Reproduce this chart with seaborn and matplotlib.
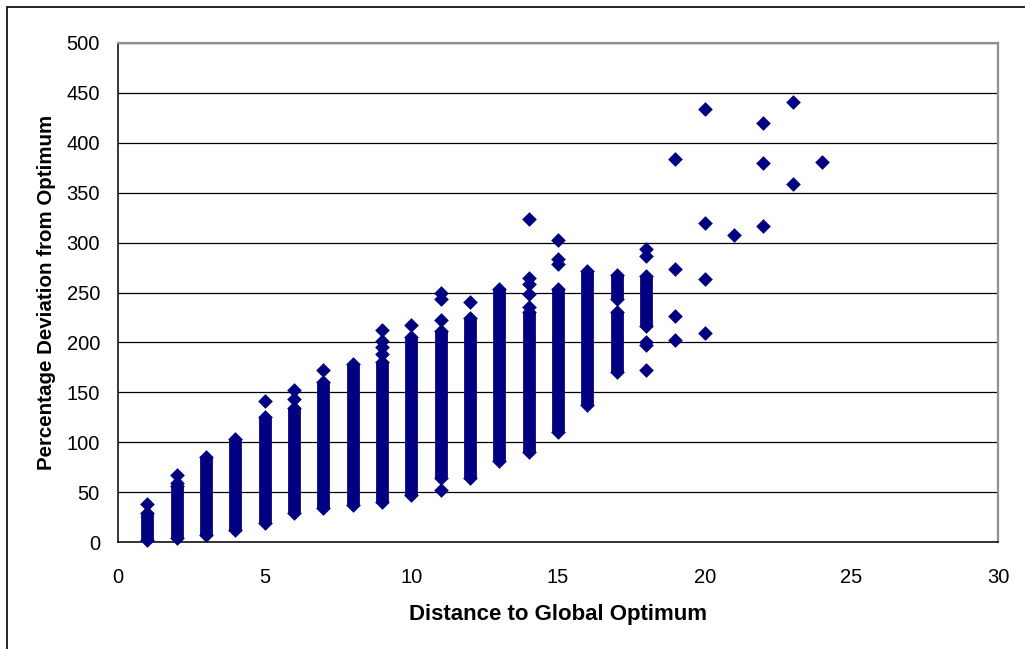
import pandas as pd
import matplotlib
matplotlib.use("Agg")
import matplotlib.pyplot as plt
from matplotlib.patches import Rectangle
import seaborn as sns

# --- dados ---
# colunas densas: cada distancia tem um bloco continuo de pontos (min .. max)
seg_x = [1, 2, 3, 4, 5, 6, 7, 8, 9, 10, 11, 12, 13, 14, 15, 16, 17, 17, 18]
seg_lo = [2, 4, 7, 12, 19, 29, 34, 37, 40, 47, 64, 64, 81, 90, 110, 137, 170, 243, 216]
seg_hi = [29, 56, 85, 103, 125, 134, 160, 178, 180, 205, 211, 224, 254, 230, 254, 272, 230, 268, 267]

# pontos isolados
pt_x = [1, 2, 2, 5, 6, 6, 7, 9, 9, 9, 9, 10, 11, 11, 11, 11, 12,
        14, 14, 14, 14, 14, 15, 15, 15, 18, 18, 18, 18, 18,
        19, 19, 19, 19, 20, 20, 20, 20, 21, 22, 22, 22, 23, 23, 24]
pt_y = [38, 59, 67, 141, 143, 152, 172, 188, 195, 201, 212, 217, 52, 222, 243, 250, 240,
        235, 248, 259, 265, 324, 279, 284, 303, 294, 287, 200, 197, 172,
        384, 274, 226, 202, 434, 320, 264, 209, 308, 420, 380, 317, 441, 359, 381]

x_ticks = [0, 5, 10, 15, 20, 25, 30]
y_ticks = [0, 50, 100, 150, 200, 250, 300, 350, 400, 450, 500]

X_LABEL = "Distance to Global Optimum"
Y_LABEL = "Percentage Deviation from Optimum"
NAVY = "#000080"
OUTPUT = "out.png"


def draw_chart():
    sns.set_style("white")
    plt.rcParams["font.family"] = ["Liberation Sans", "DejaVu Sans"]
    plt.rcParams["text.color"] = "black"
    plt.rcParams["axes.labelcolor"] = "black"

    fig = plt.figure(figsize=(10.25, 6.49), dpi=100)
    ax = fig.add_axes([118 / 1025, 1 - 542 / 649, 880 / 1025, 499 / 649])

    # blocos densos de pontos
    ax.vlines(seg_x, seg_lo, seg_hi, colors=NAVY, linewidth=9.2, zorder=3)

    pts = pd.DataFrame({
        "dist": seg_x + seg_x + pt_x,
        "dev": seg_lo + seg_hi + pt_y,
    })
    sns.scatterplot(data=pts, x="dist", y="dev", marker="D", s=56, color=NAVY,
                    linewidth=0, ax=ax, zorder=4, clip_on=False, legend=False)

    ax.set_xlim(0, 30)
    ax.set_ylim(0, 500)
    ax.set_xticks(x_ticks)
    ax.set_yticks(y_ticks)
    ax.tick_params(axis="both", direction="out", length=5, width=1,
                   color="black", labelsize=14.5, labelcolor="black")
    ax.tick_params(axis="y", pad=8)
    ax.tick_params(axis="x", pad=14)

    ax.yaxis.grid(True, color="black", linewidth=0.9)
    ax.xaxis.grid(False)
    ax.set_axisbelow(True)

    for side in ["left", "bottom"]:
        ax.spines[side].set_color("black")
        ax.spines[side].set_linewidth(1.1)
    for side in ["top", "right"]:
        ax.spines[side].set_color("#909090")
        ax.spines[side].set_linewidth(1.6)

    ax.set_xlabel(X_LABEL, fontsize=16, fontweight="bold")
    ax.set_ylabel(Y_LABEL, fontsize=14.8, fontweight="bold")
    ax.xaxis.set_label_coords(0.5, -0.125)
    ax.yaxis.set_label_coords(-0.071, 0.5)

    # moldura da figura (cortada a direita e em baixo)
    fig.patches.append(Rectangle((6.5 / 1025, -0.1), 1.2, 1.1 - 7 / 649,
                                 transform=fig.transFigure, fill=False,
                                 edgecolor="black", linewidth=1.2))

    fig.savefig(OUTPUT, dpi=100)
    plt.close(fig)


if __name__ == "__main__":
    draw_chart()
